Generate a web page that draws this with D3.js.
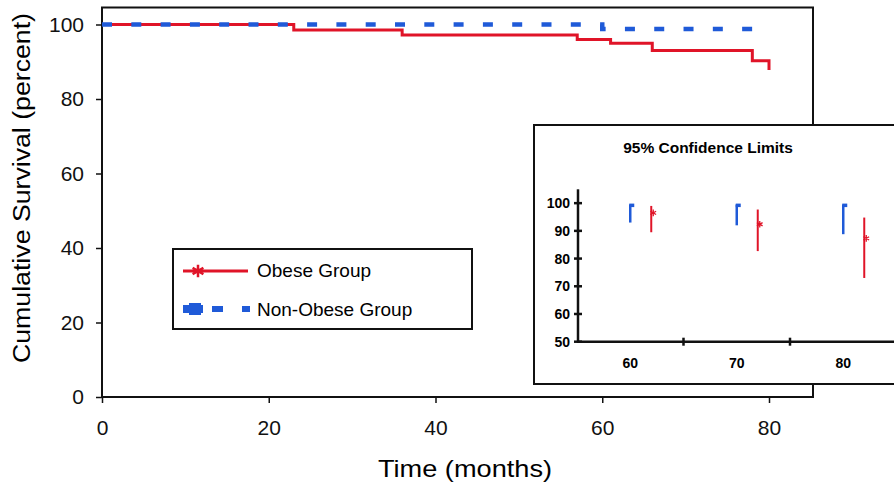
<!DOCTYPE html>
<html>
<head>
<meta charset="utf-8">
<script src="https://cdn.jsdelivr.net/npm/d3@7"></script>
<style>
  body { margin: 0; background: #fff; }
  svg { display: block; font-family: Arial, "Liberation Sans", sans-serif; }
</style>
</head>
<body>
<svg id="chart" width="894" height="487"></svg>
<script>
// Kaplan-Meier steps (months, percent surviving)
const obeseMonths = [0, 23, 36, 57, 61, 66, 78, 80];
const obeseSurv = [100, 98.5, 97.2, 96.0, 95.0, 93.0, 90.3, 87.8];
const nonObeseMonths = [0, 60, 78];
const nonObeseSurv = [100, 98.8, 98.8];

const xTicks = [0, 20, 40, 60, 80];
const yTicks = [0, 20, 40, 60, 80, 100];

// inset: 95% confidence limits
const ciMonths = [60, 70, 80];
const nonObeseEst = [99.3, 99.3, 99.3];
const nonObeseLo = [93, 92, 88.8];
const nonObeseHi = [99.5, 99.5, 99.5];
const obeseEst = [96.5, 92.4, 87.3];
const obeseLo = [89.5, 82.7, 73];
const obeseHi = [99, 97.7, 94.8];
const ciTicks = [50, 60, 70, 80, 90, 100];

const RED = "#e01428";
const BLUE = "#1f5ad8";

const svg = d3.select("#chart");

const x = d3.scaleLinear().domain([0, 80]).range([102, 769]);
const y = d3.scaleLinear().domain([0, 100]).range([397, 24.5]);

// plot frame
svg.append("rect")
    .attr("x", x(0)).attr("y", 7.5)
    .attr("width", 813 - x(0)).attr("height", y(0) - 7.5)
    .attr("fill", "none").attr("stroke", "#111").attr("stroke-width", 2);

// axes
const xAxis = svg.append("g")
    .attr("transform", `translate(0,${y(0)})`)
    .call(d3.axisBottom(x).tickValues(xTicks).tickSizeInner(6).tickSizeOuter(0).tickPadding(17));
const yAxis = svg.append("g")
    .attr("transform", `translate(${x(0)},0)`)
    .call(d3.axisLeft(y).tickValues(yTicks).tickSizeInner(6).tickSizeOuter(0).tickPadding(12));
[xAxis, yAxis].forEach(g => {
    g.select(".domain").remove();
    g.selectAll("line").attr("stroke", "#111").attr("stroke-width", 1.5);
    g.selectAll("text").attr("font-size", 21).attr("fill", "#111")
        .attr("font-family", "Arial, 'Liberation Sans', sans-serif");
});

// axis titles
svg.append("text")
    .attr("x", 465).attr("y", 477)
    .attr("text-anchor", "middle")
    .attr("font-size", 24)
    .attr("textLength", 174).attr("lengthAdjust", "spacingAndGlyphs")
    .text("Time (months)");
svg.append("text")
    .attr("transform", "translate(30,188) rotate(-90)")
    .attr("text-anchor", "middle")
    .attr("font-size", 23)
    .attr("textLength", 350).attr("lengthAdjust", "spacingAndGlyphs")
    .text("Cumulative Survival (percent)");

// survival curves
const step = d3.line().curve(d3.curveStepAfter)
    .x(d => x(d[0])).y(d => y(d[1]));

svg.append("path")
    .datum(obeseMonths.map((m, i) => [m, obeseSurv[i]]))
    .attr("d", step)
    .attr("fill", "none").attr("stroke", RED).attr("stroke-width", 3);

svg.append("path")
    .datum(nonObeseMonths.map((m, i) => [m, nonObeseSurv[i]]))
    .attr("d", step)
    .attr("fill", "none").attr("stroke", BLUE).attr("stroke-width", 4.5)
    .attr("stroke-dasharray", "10 19.3");

// legend
const lg = svg.append("g");
lg.append("rect")
    .attr("x", 173).attr("y", 249).attr("width", 299).attr("height", 80)
    .attr("fill", "#fff").attr("stroke", "#111").attr("stroke-width", 2);
lg.append("line")
    .attr("x1", 183).attr("x2", 248).attr("y1", 271).attr("y2", 271)
    .attr("stroke", RED).attr("stroke-width", 3);
lg.append("path")
    .attr("transform", "translate(198,271)")
    .attr("d", d3.symbol(d3.symbolAsterisk, 110)())
    .attr("fill", "none").attr("stroke", RED).attr("stroke-width", 2.5);
lg.append("text").attr("x", 257).attr("y", 277).attr("font-size", 19).text("Obese Group");

lg.append("rect").attr("x", 183).attr("y", 305).attr("width", 20).attr("height", 8).attr("fill", BLUE);
lg.append("rect").attr("x", 189).attr("y", 303).attr("width", 12).attr("height", 12).attr("fill", BLUE);
lg.append("rect").attr("x", 212).attr("y", 306).attr("width", 11).attr("height", 6).attr("fill", BLUE);
lg.append("rect").attr("x", 242).attr("y", 306).attr("width", 8).attr("height", 6).attr("fill", BLUE);
lg.append("text").attr("x", 257).attr("y", 316).attr("font-size", 19).text("Non-Obese Group");

// inset box
const inset = svg.append("g");
inset.append("rect")
    .attr("x", 534).attr("y", 125).attr("width", 380).attr("height", 259)
    .attr("fill", "#fff").attr("stroke", "#111").attr("stroke-width", 2);
inset.append("text")
    .attr("x", 708).attr("y", 153)
    .attr("text-anchor", "middle")
    .attr("font-size", 15.5).attr("font-weight", "bold")
    .text("95% Confidence Limits");

const ix = d3.scaleBand().domain(ciMonths).range([577, 896.5]).padding(0);
const iy = d3.scaleLinear().domain([50, 105]).range([341.7, 189.3]);

// inset axes
inset.append("line")
    .attr("x1", ix.range()[0]).attr("x2", 900)
    .attr("y1", iy(50)).attr("y2", iy(50))
    .attr("stroke", "#111").attr("stroke-width", 2.5);
inset.append("line")
    .attr("x1", 578).attr("x2", 578)
    .attr("y1", iy(105)).attr("y2", iy(50))
    .attr("stroke", "#111").attr("stroke-width", 2.5);

inset.selectAll(".ytick")
    .data(ciTicks)
    .join("line")
    .attr("x1", 574).attr("x2", 582)
    .attr("y1", d => iy(d)).attr("y2", d => iy(d))
    .attr("stroke", "#111").attr("stroke-width", 2.5);
inset.selectAll(".ylab")
    .data(ciTicks)
    .join("text")
    .attr("x", 570).attr("y", d => iy(d))
    .attr("dy", "0.36em")
    .attr("text-anchor", "end")
    .attr("font-size", 14).attr("font-weight", "bold")
    .text(d => d);

inset.selectAll(".xtick")
    .data(ciMonths.slice(1))
    .join("line")
    .attr("x1", d => ix(d)).attr("x2", d => ix(d))
    .attr("y1", iy(50) - 4).attr("y2", iy(50) + 4)
    .attr("stroke", "#111").attr("stroke-width", 2.5);
inset.selectAll(".xlab")
    .data(ciMonths)
    .join("text")
    .attr("x", d => ix(d) + ix.bandwidth() / 2)
    .attr("y", 368)
    .attr("text-anchor", "middle")
    .attr("font-size", 14).attr("font-weight", "bold")
    .text(d => d);

// confidence intervals
const blueX = d => ix(d) + ix.bandwidth() / 2;
const redX = d => ix(d) + ix.bandwidth() / 2 + 21;

inset.selectAll(".bci")
    .data(ciMonths)
    .join("line")
    .attr("x1", blueX).attr("x2", blueX)
    .attr("y1", (d, i) => iy(nonObeseHi[i])).attr("y2", (d, i) => iy(nonObeseLo[i]))
    .attr("stroke", BLUE).attr("stroke-width", 2.5);
inset.selectAll(".best")
    .data(ciMonths)
    .join("rect")
    .attr("x", d => blueX(d) - 1)
    .attr("y", (d, i) => iy(nonObeseEst[i]) - 1.5)
    .attr("width", 5).attr("height", 3.5)
    .attr("fill", BLUE);

inset.selectAll(".rci")
    .data(ciMonths)
    .join("line")
    .attr("x1", redX).attr("x2", redX)
    .attr("y1", (d, i) => iy(obeseHi[i])).attr("y2", (d, i) => iy(obeseLo[i]))
    .attr("stroke", RED).attr("stroke-width", 2);
inset.selectAll(".rest")
    .data(ciMonths)
    .join("path")
    .attr("transform", (d, i) => `translate(${redX(d) + 2},${iy(obeseEst[i])})`)
    .attr("d", d3.symbol(d3.symbolAsterisk, 30)())
    .attr("fill", "none").attr("stroke", RED).attr("stroke-width", 1.3);
</script>
</body>
</html>
